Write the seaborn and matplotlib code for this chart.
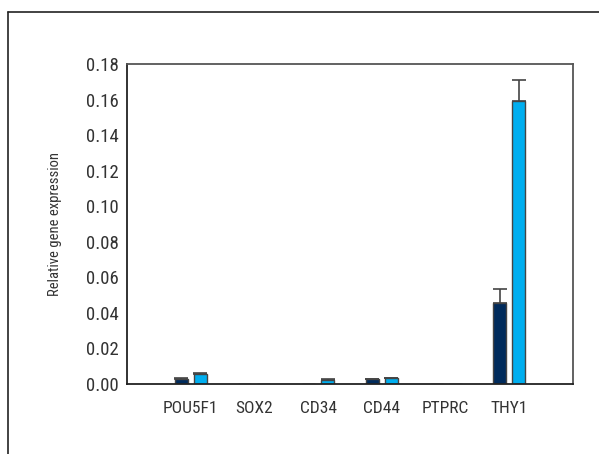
import numpy as np
import pandas as pd
import matplotlib
matplotlib.use("Agg")
import matplotlib.pyplot as plt
from matplotlib.lines import Line2D
from matplotlib import font_manager
import seaborn as sns

# Data
genes = ["POU5F1", "SOX2", "CD34", "CD44", "PTPRC", "THY1"]
group_a = [0.0030, 0.0, 0.0, 0.0027, 0.0, 0.0458]
group_a_err = [0.0004, 0.0, 0.0, 0.0003, 0.0, 0.0075]
group_b = [0.0055, 0.0, 0.0024, 0.0032, 0.0, 0.1594]
group_b_err = [0.0009, 0.0, 0.0003, 0.0003, 0.0, 0.0116]
y_ticks = [0.00, 0.02, 0.04, 0.06, 0.08, 0.10, 0.12, 0.14, 0.16, 0.18]

df = pd.DataFrame({
    "gene": genes * 2,
    "group": ["A"] * len(genes) + ["B"] * len(genes),
    "value": group_a + group_b,
    "err": group_a_err + group_b_err,
})

sns.set_style("white")

# look for a narrow / condensed family, the reference uses a condensed face
names = sorted({f.name for f in font_manager.fontManager.ttflist})
preferred = ["Roboto Condensed", "Liberation Sans Narrow", "DejaVu Sans Condensed",
             "Noto Sans Condensed", "Open Sans Condensed"]
narrow = [n for n in preferred if n in names]
narrow += [n for n in names if ("Narrow" in n or "Condensed" in n) and "Light" not in n]
plt.rcParams["font.family"] = narrow[:1] + ["DejaVu Sans"]

fig = plt.figure(figsize=(5.99, 4.54), dpi=100)
ax = fig.add_axes([127 / 599, 1 - 384 / 454, (573 - 127) / 599, (384 - 64) / 454])

sns.barplot(data=df, x="gene", y="value", hue="group",
            palette={"A": "#002b5c", "B": "#00aeef"}, saturation=1,
            width=0.6, gap=0.32, edgecolor="#444444", linewidth=1.0,
            errorbar=None, legend=False, ax=ax)

# upper-only error bars on each bar
for bars, errs in zip(ax.containers, [group_a_err, group_b_err]):
    for patch, e in zip(bars, errs):
        if e > 0:
            xc = patch.get_x() + patch.get_width() / 2
            ax.errorbar(xc, patch.get_height(), yerr=[[0], [e]], fmt="none",
                        ecolor="#444444", elinewidth=1.2, capsize=5, capthick=1.2)

ax.set_xlim(-1, 6)
ax.set_ylim(0, 0.18)
ax.set_yticks(y_ticks)
ax.set_yticklabels([f"{t:.2f}" for t in y_ticks])
ax.set_xlabel("")
ax.set_ylabel("Relative gene expression", fontsize=10.5, color="#333333",
              labelpad=17)

for s in ax.spines.values():
    s.set_color("#555555")
    s.set_linewidth(1.3)
ax.spines["left"].set_color("#222222")
ax.spines["bottom"].set_color("#222222")

ax.tick_params(axis="both", which="both", direction="out", length=4, width=1,
               color="#222222", labelcolor="#333333", pad=2)
ax.tick_params(axis="y", labelsize=13.5)
ax.tick_params(axis="x", labelsize=12.5, pad=8)

# outer frame (top and left edges)
fig.add_artist(Line2D([7.5 / 599, 1.0], [1 - 12 / 454, 1 - 12 / 454],
                      transform=fig.transFigure, color="#222222", linewidth=1.2))
fig.add_artist(Line2D([7.5 / 599, 7.5 / 599], [0.0, 1 - 12 / 454],
                      transform=fig.transFigure, color="#222222", linewidth=1.2))

fig.savefig("out.png", dpi=100)
